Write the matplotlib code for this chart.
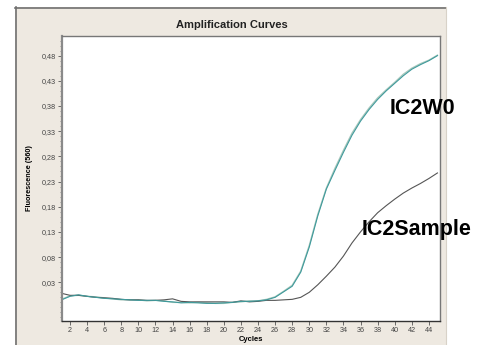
import numpy as np
import matplotlib
matplotlib.use("Agg")
import matplotlib.pyplot as plt
from matplotlib.patches import Rectangle
from matplotlib.ticker import FuncFormatter, MultipleLocator

plt.rcParams['font.family'] = ['Liberation Sans', 'DejaVu Sans']

# cycles 1..45
cycles = np.arange(1, 46)

# IC2W0 (two replicate wells, nearly overlapping)
w0_a = [-0.005, 0.002, 0.005, 0.002, 0.000, -0.002, -0.003, -0.004, -0.005, -0.006,
        -0.006, -0.006, -0.008, -0.009, -0.011, -0.010, -0.011, -0.012, -0.012, -0.011,
        -0.010, -0.008, -0.008, -0.007, -0.005, 0.000, 0.011, 0.022, 0.050, 0.100,
        0.162, 0.215, 0.252, 0.288, 0.322, 0.350, 0.373, 0.393, 0.410, 0.425,
        0.440, 0.453, 0.462, 0.470, 0.480]
w0_b = [-0.004, 0.003, 0.004, 0.002, 0.001, -0.001, -0.003, -0.005, -0.005, -0.005,
        -0.007, -0.006, -0.007, -0.010, -0.010, -0.011, -0.010, -0.011, -0.012, -0.012,
        -0.010, -0.009, -0.007, -0.007, -0.004, 0.001, 0.012, 0.024, 0.052, 0.103,
        0.165, 0.217, 0.256, 0.292, 0.326, 0.353, 0.376, 0.396, 0.412, 0.427,
        0.443, 0.455, 0.464, 0.471, 0.481]

# IC2Sample
sample = [0.008, 0.004, 0.004, 0.002, 0.000, -0.001, -0.002, -0.004, -0.005, -0.005,
          -0.006, -0.006, -0.005, -0.003, -0.008, -0.009, -0.009, -0.009, -0.009, -0.009,
          -0.010, -0.007, -0.009, -0.008, -0.006, -0.006, -0.005, -0.004, 0.000, 0.010,
          0.025, 0.042, 0.060, 0.082, 0.108, 0.130, 0.150, 0.168, 0.182, 0.195,
          0.207, 0.217, 0.226, 0.236, 0.247]

x_ticks = np.arange(2, 46, 2)
y_ticks = np.arange(0.03, 0.49, 0.05)

W, H = 483, 345
fig = plt.figure(figsize=(W / 100, H / 100), dpi=100, facecolor='white')

# beige instrument panel behind the plot (pixel coordinates, y from top)
bg = fig.add_axes([0, 0, 1, 1], zorder=-1)
bg.set_xlim(0, W)
bg.set_ylim(H, 0)
bg.axis('off')
bg.add_patch(Rectangle((15, 7), 446 - 15, H - 7, facecolor='#eee9e1', edgecolor='none'))
bg.plot([15, 446], [7.5, 7.5], color='#707070', lw=1.2)
bg.plot([15.5, 15.5], [7, H], color='#707070', lw=1.2)
bg.plot([446, 446], [7, H], color='#d8d2c8', lw=0.8)

ax = fig.add_axes([62 / W, (H - 321) / H, (440 - 62) / W, (321 - 36) / H])
ax.set_facecolor('white')

ax.plot(cycles, w0_b, color='#a9c8bc', lw=1.0)
ax.plot(cycles, sample, color='#555555', lw=0.8)
ax.plot(cycles, w0_a, color='#3f9a9c', lw=0.8)

ax.set_xlim(1.06, 45.3)
ax.set_ylim(-0.047, 0.519)
ax.set_xticks(x_ticks)
ax.set_yticks(y_ticks)
ax.yaxis.set_minor_locator(MultipleLocator(0.01))
ax.yaxis.set_major_formatter(FuncFormatter(lambda v, p: f"{v:.2f}".replace('.', ',')))
ax.tick_params(axis='both', which='major', length=3, width=0.6, color='#555555',
               labelsize=5.2, labelcolor='#444444', pad=1.5)
ax.tick_params(axis='y', which='minor', length=1.5, width=0.5, color='#777777')

for side in ['top', 'right']:
    ax.spines[side].set_color('#777777')
    ax.spines[side].set_linewidth(1.0)
ax.spines['left'].set_color('#8a8a8a')
ax.spines['left'].set_linewidth(1.6)
ax.spines['bottom'].set_color('#333333')
ax.spines['bottom'].set_linewidth(1.0)

ax.set_xlabel('Cycles', fontsize=5.5, fontweight='bold', labelpad=1)
ax.set_ylabel('Fluorescence (560)', fontsize=5.2, fontweight='bold', labelpad=6)

fig.text(232 / W, 1 - 25 / H, 'Amplification Curves', ha='center', va='center',
         fontsize=8, fontweight='bold', color='#222222')

fig.text(390 / W, 1 - 114 / H, 'IC2W0', ha='left', va='baseline',
         fontsize=15.5, fontweight='bold', color='black')
fig.text(362 / W, 1 - 235.5 / H, 'IC2Sample', ha='left', va='baseline',
         fontsize=15.5, fontweight='bold', color='black')

fig.savefig('out.png', dpi=100, facecolor='white')
